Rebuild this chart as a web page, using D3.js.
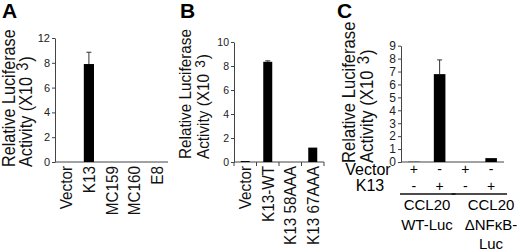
<!DOCTYPE html>
<html>
<head>
<meta charset="utf-8">
<script src="https://cdn.jsdelivr.net/npm/d3@7"></script>
<style>
  body { margin: 0; background: #fff; }
  svg { display: block; font-family: "Liberation Sans", Arial, sans-serif; }
  .axis path, .axis line { stroke: #444; }
  .axis text { fill: #222; }
</style>
</head>
<body>
<svg id="chart" width="520" height="252"></svg>
<script>
// panel A - K13 vs other vFLIPs
const categoriesA = ["Vector", "K13", "MC159", "MC160", "E8"];
const valuesA = [0, 7.9, 0, 0, 0];
const errorsA = [0, 0.95, 0, 0, 0];
const ticksA = [0, 2, 4, 6, 8, 10];
const tickLabelsA = ["0", "2", "4", "6", "8", "12"]; // top label reads "12" in the original

// panel B - K13 mutants
const categoriesB = ["Vector", "K13-WT", "K13 58AAA", "K13 67AAA"];
const valuesB = [0.08, 8.35, 0, 1.2];
const errorsB = [0, 0.08, 0, 0];
const ticksB = [0, 2, 4, 6, 8, 10];

// panel C - CCL20 promoter reporters
const valuesC = [0.02, 6.8, 0, 0.3];
const errorsC = [0, 1.1, 0, 0];
const vectorSigns = ["+", "-", "+", "-"];
const k13Signs = ["-", "+", "-", "+"];
const reporterGroups = [["CCL20", "WT-Luc"], ["CCL20", "\u0394NF\u03baB-", "Luc"]];
const ticksC = [0, 1, 2, 3, 4, 5, 6, 7, 8, 9];

const svg = d3.select("#chart");

// draws one bar panel, returns the scales
function drawPanel (cfg) {
	let x = d3.scaleBand()
		.domain(d3.range(cfg.values.length))
		.range(cfg.xRange);
	let y = d3.scaleLinear()
		.domain(cfg.yDomain)
		.range(cfg.yRange);

	let g = svg.append("g");

	// y axis
	g.append("g")
		.attr("class", "axis")
		.attr("transform", "translate(" + cfg.xRange[0] + ",0)")
		.call(d3.axisLeft(y)
			.tickValues(cfg.ticks)
			.tickFormat((d, i) => cfg.tickLabels ? cfg.tickLabels[i] : d)
			.tickSize(3)
			.tickSizeOuter(0)
			.tickPadding(2))
		.call(a => a.selectAll("text").style("font-size", cfg.tickFont + "px"));

	// x axis (baseline)
	let xa = g.append("g")
		.attr("class", "axis")
		.attr("transform", "translate(0," + cfg.yRange[0] + ")");
	xa.append("line")
		.attr("x1", cfg.xRange[0]).attr("x2", cfg.xRange[1])
		.attr("y1", 0).attr("y2", 0);
	if (cfg.bandTicks) {
		let edges = x.domain().map(d => x(d)).concat([cfg.xRange[1]]);
		xa.selectAll(".bt")
			.data(edges)
			.enter()
			.append("line")
			.attr("x1", d => d).attr("x2", d => d)
			.attr("y1", 0).attr("y2", 4);
	}

	let bw = x.bandwidth() * cfg.barFrac;

	// error bars (behind the bars)
	g.selectAll(".err")
		.data(cfg.values.map((v, i) => ({v: v, e: cfg.errors[i], i: i})).filter(d => d.e > 0))
		.enter()
		.append("path")
		.attr("fill", "none")
		.attr("stroke", "#333")
		.attr("stroke-width", 1)
		.attr("d", d => {
			let cx = x(d.i) + x.bandwidth() / 2;
			return "M" + cx + "," + y(d.v) + "V" + y(d.v + d.e) +
				"M" + (cx - 2.5) + "," + y(d.v + d.e) + "H" + (cx + 2.5);
		});

	g.selectAll(".bar")
		.data(cfg.values)
		.enter()
		.append("rect")
		.attr("x", (d, i) => x(i) + (x.bandwidth() - bw) / 2)
		.attr("width", bw)
		.attr("y", d => y(d))
		.attr("height", d => y(0) - y(d))
		.attr("fill", "#000");

	// rotated y title, slightly condensed along the text direction
	let t = g.append("text")
		.attr("transform", "translate(0," + cfg.titleY + ") rotate(-90) scale(0.9,1)")
		.style("font-size", cfg.titleFont + "px")
		.attr("fill", "#111");
	t.append("tspan").attr("x", 0).attr("y", cfg.titleX[0]).text("Relative Luciferase");
	let l2 = t.append("tspan").attr("x", 0).attr("y", cfg.titleX[1]).text("Activity (X10");
	l2.append("tspan").attr("dx", 7).attr("dy", -4).style("font-size", (cfg.titleFont * 0.9) + "px").text("3");
	l2.append("tspan").attr("dx", 1).attr("dy", 4).text(")");

	// panel letter
	svg.append("text")
		.attr("x", cfg.letterX).attr("y", 18)
		.style("font-size", "21px")
		.style("font-weight", "bold")
		.text(cfg.letter);

	return {x: x, y: y, g: g};
}

// rotated category labels under the axis
function rotatedLabels (p, cats, top, size) {
	p.g.selectAll(".cat")
		.data(cats)
		.enter()
		.append("text")
		.attr("transform", (d, i) => "translate(" + (p.x(i) + p.x.bandwidth() / 2) + "," + top + ") rotate(-90) scale(0.9,1)")
		.attr("text-anchor", "end")
		.attr("dy", "0.36em")
		.style("font-size", size + "px")
		.attr("fill", "#111")
		.text(d => d);
}

let pA = drawPanel({
	values: valuesA, errors: errorsA, ticks: ticksA, tickLabels: tickLabelsA,
	xRange: [55, 168], yRange: [162, 38], yDomain: [0, 10],
	barFrac: 0.45, tickFont: 11, bandTicks: false,
	titleY: 167, titleX: [15, 32], titleFont: 18,
	letter: "A", letterX: 2
});
rotatedLabels(pA, categoriesA, 166, 17);

let pB = drawPanel({
	values: valuesB, errors: errorsB, ticks: ticksB,
	xRange: [234, 324], yRange: [162, 42], yDomain: [0, 10],
	barFrac: 0.4, tickFont: 10.5, bandTicks: true,
	titleY: 159, titleX: [191, 209], titleFont: 17,
	letter: "B", letterX: 180
});
rotatedLabels(pB, categoriesB, 166, 17);

let pC = drawPanel({
	values: valuesC, errors: errorsC, ticks: ticksC,
	xRange: [401, 504], yRange: [162, 45.7], yDomain: [0, 9],
	barFrac: 0.45, tickFont: 12, bandTicks: false,
	titleY: 163, titleX: [355, 373], titleFont: 18.5,
	letter: "C", letterX: 337
});

// treatment rows for panel C
let cx = i => pC.x(i) + pC.x.bandwidth() / 2;
pC.g.append("text").attr("x", 368).attr("y", 175).attr("text-anchor", "middle")
	.style("font-size", "16px").text("Vector");
pC.g.append("text").attr("x", 370).attr("y", 191).attr("text-anchor", "middle")
	.style("font-size", "16px").text("K13");
pC.g.selectAll(".vs")
	.data(vectorSigns).enter().append("text")
	.attr("x", (d, i) => cx(i)).attr("y", 174)
	.attr("text-anchor", "middle").style("font-size", "14px").text(d => d);
pC.g.selectAll(".ks")
	.data(k13Signs).enter().append("text")
	.attr("x", (d, i) => cx(i)).attr("y", 191)
	.attr("text-anchor", "middle").style("font-size", "14px").text(d => d);

// reporter group underlines and names
const groupCenters = [427, 491];
reporterGroups.forEach((lines, gi) => {
	let x0 = pC.x(gi * 2) - 1, x1 = pC.x(gi * 2 + 1) + pC.x.bandwidth() + 3;
	pC.g.append("line")
		.attr("x1", x0).attr("x2", x1).attr("y1", 194).attr("y2", 194)
		.attr("stroke", "#111").attr("stroke-width", 1.5);
	lines.forEach((s, li) => {
		pC.g.append("text")
			.attr("x", groupCenters[gi]).attr("y", 210 + li * 19.5)
			.attr("text-anchor", "middle")
			.style("font-size", "15px")
			.text(s);
	});
});
</script>
</body>
</html>
